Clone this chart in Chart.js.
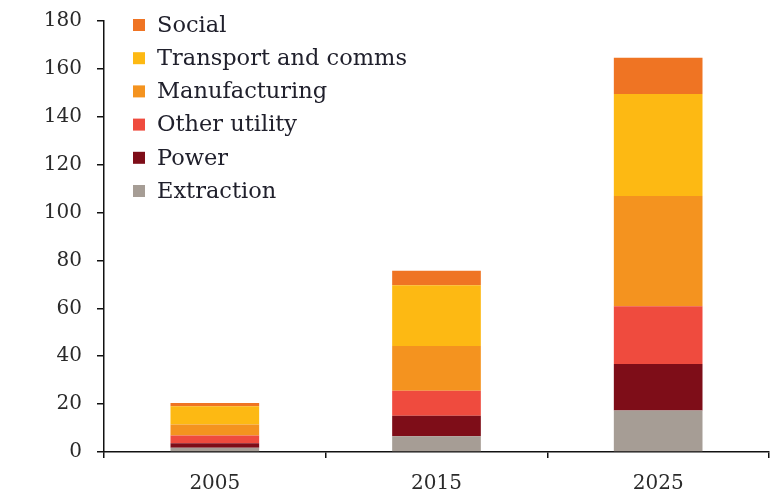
<!DOCTYPE html>
<html>
<head>
<meta charset="utf-8">
<title>Investment by sector</title>
<script src="https://cdn.jsdelivr.net/npm/chart.js@4/dist/chart.umd.min.js"></script>
<style>
  html, body { margin: 0; padding: 0; background: #ffffff; }
  #wrap { width: 777px; height: 499px; position: relative; }
</style>
</head>
<body>
<div id="wrap"><canvas id="sectorChart"></canvas></div>
<script>
// values
var years = ['2005', '2015', '2025'];
var extraction = [1.8, 6.6, 17.3];
var power = [1.9, 8.5, 19.4];
var otherUtility = [3.2, 10.5, 24.2];
var manufacturing = [4.6, 18.7, 46];
var transport = [7.6, 25.3, 42.6];
var social = [1.4, 6.1, 15.2];
var yTicks = [0, 20, 40, 60, 80, 100, 120, 140, 160, 180];

var serif = "'DejaVu Serif', 'Liberation Serif', serif";

// legend drawn inside the plot, top left, top of stack first
var legendInside = {
  id: 'legendInside',
  afterDraw: function (chart) {
    var ctx = chart.ctx;
    var sets = chart.data.datasets.slice().reverse();
    ctx.save();
    ctx.font = '22.5px ' + serif;
    ctx.textBaseline = 'middle';
    ctx.textAlign = 'left';
    for (var i = 0; i < sets.length; i++) {
      var cy = 25 + i * 33.2;
      ctx.fillStyle = sets[i].backgroundColor;
      ctx.fillRect(133, cy - 6, 12, 12);
      ctx.fillStyle = '#20202c';
      ctx.fillText(sets[i].label, 157, cy + 1);
    }
    ctx.restore();
  }
};

document.addEventListener('DOMContentLoaded', function () {
  var canvas = document.getElementById('sectorChart');

  new Chart(canvas, {
    type: 'bar',
    data: {
      labels: years,
      datasets: [
        { label: 'Extraction', data: extraction, backgroundColor: '#a69d95' },
        { label: 'Power', data: power, backgroundColor: '#7e0d18' },
        { label: 'Other utility', data: otherUtility, backgroundColor: '#ef4b3e' },
        { label: 'Manufacturing', data: manufacturing, backgroundColor: '#f4931f' },
        { label: 'Transport and comms', data: transport, backgroundColor: '#fdb913' },
        { label: 'Social', data: social, backgroundColor: '#ef7423' }
      ]
    },
    options: {
      responsive: true,
      maintainAspectRatio: false,
      animation: false,
      devicePixelRatio: 1,
      layout: { padding: { left: 0, right: 8, top: 16, bottom: 0 } },
      datasets: {
        bar: { barPercentage: 0.4, categoryPercentage: 1, borderWidth: 0 }
      },
      plugins: {
        legend: { display: false },
        tooltip: { enabled: false }
      },
      scales: {
        x: {
          stacked: true,
          border: { display: true, color: '#111111', width: 1.5 },
          grid: {
            offset: true,
            drawOnChartArea: false,
            drawTicks: true,
            tickLength: 6,
            color: '#111111',
            lineWidth: 1.5
          },
          ticks: {
            color: '#2a2a2a',
            padding: 14,
            font: { family: serif, size: 20 }
          },
          afterFit: function (scale) { scale.height = 47; }
        },
        y: {
          stacked: true,
          min: 0,
          max: 180,
          border: { display: true, color: '#111111', width: 1.5 },
          grid: {
            drawOnChartArea: false,
            drawTicks: true,
            tickLength: 7,
            color: '#111111',
            lineWidth: 1.5
          },
          afterBuildTicks: function (scale) {
            scale.ticks = yTicks.map(function (v) { return { value: v }; });
          },
          ticks: {
            color: '#2a2a2a',
            padding: 15,
            font: { family: serif, size: 20, lineHeight: 0.6 }
          },
          afterFit: function (scale) { scale.width = 104; }
        }
      }
    },
    plugins: [legendInside]
  });
});
</script>
</body>
</html>
